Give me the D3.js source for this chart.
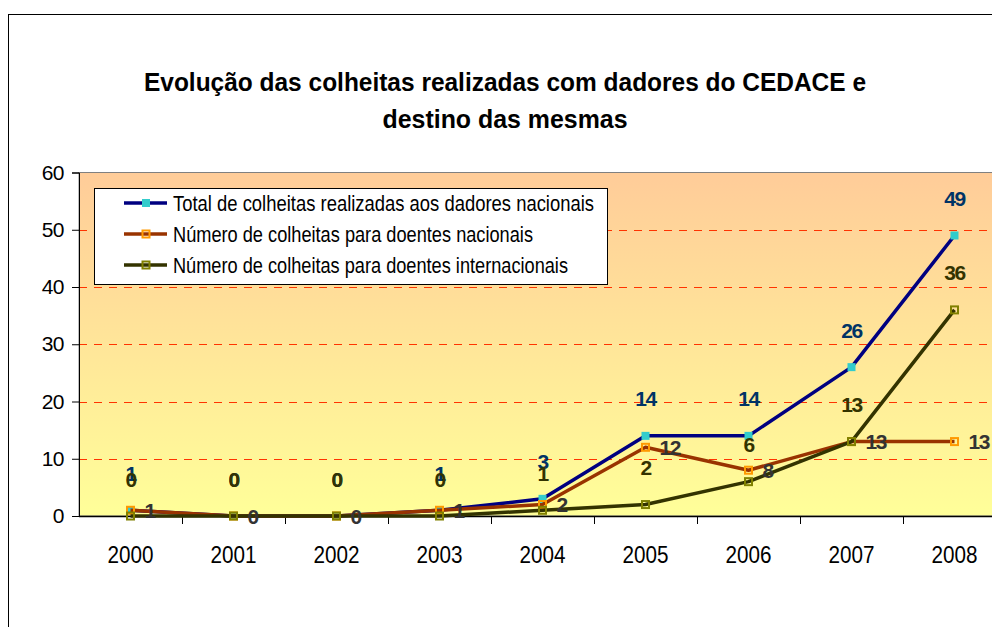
<!DOCTYPE html>
<html>
<head>
<meta charset="utf-8">
<script src="https://cdn.jsdelivr.net/npm/d3@7"></script>
<style>
  body { margin: 0; background: #fff; }
  svg { display: block; font-family: "Liberation Sans", Arial, sans-serif; }
</style>
</head>
<body>
<svg></svg>
<script>
let svgWidth = 992
let svgHeight = 627

// data
const years = ['2000', '2001', '2002', '2003', '2004', '2005', '2006', '2007', '2008']
const totalColheitas = [1, 0, 0, 1, 3, 14, 14, 26, 49]
const doentesNacionais = [1, 0, 0, 1, 2, 12, 8, 13, 13]
const doentesInternacionais = [0, 0, 0, 0, 1, 2, 6, 13, 36]
const seriesNames = [
    'Total de colheitas realizadas aos dadores nacionais',
    'Número de colheitas para doentes nacionais',
    'Número de colheitas para doentes internacionais'
]
const yTicks = [0, 10, 20, 30, 40, 50, 60]
const titleLines = ['Evolução das colheitas realizadas com dadores do CEDACE e', 'destino das mesmas']

let svg = d3.select('svg')
    .attr('width', svgWidth)
    .attr('height', svgHeight)

// outer chart frame
svg.append('rect')
    .attr('x', 8.5).attr('y', 14.5)
    .attr('width', 1100).attr('height', 800)
    .attr('fill', '#fff').attr('stroke', '#000')

let plot = {left: 79, right: 1006, top: 172.5, bottom: 516}

const x = d3.scaleBand().domain(years).range([plot.left, plot.right])
const y = d3.scaleLinear().domain([0, 60]).range([plot.bottom, plot.top])
const cx = d => x(d) + x.bandwidth() / 2

// plot background gradient
let grad = svg.append('defs').append('linearGradient')
    .attr('id', 'bg').attr('x1', 0).attr('y1', 0).attr('x2', 0).attr('y2', 1)
grad.append('stop').attr('offset', '0%').attr('stop-color', '#ffcc99')
grad.append('stop').attr('offset', '100%').attr('stop-color', '#ffff99')

svg.append('rect')
    .attr('x', plot.left).attr('y', plot.top)
    .attr('width', plot.right - plot.left).attr('height', plot.bottom - plot.top)
    .attr('fill', 'url(#bg)')
    .attr('stroke', '#808080')

// dashed gridlines
svg.selectAll('line.grid').data(yTicks.filter(t => t > 0 && t < 60))
    .enter().append('line')
    .attr('class', 'grid')
    .attr('x1', plot.left).attr('x2', plot.right)
    .attr('y1', d => Math.round(y(d)) + 0.5).attr('y2', d => Math.round(y(d)) + 0.5)
    .attr('stroke', '#ff3300')
    .attr('stroke-dasharray', '8,7')

// y axis
let yAxis = svg.append('g')
    .attr('transform', `translate(${plot.left},0)`)
    .call(d3.axisLeft(y).tickValues(yTicks).tickSize(7).tickPadding(8))
yAxis.select('.domain').attr('stroke', '#000')
yAxis.selectAll('.tick line').attr('stroke', '#000')
yAxis.selectAll('text')
    .attr('font-size', 21).attr('fill', '#000')
    .attr('font-family', '"Liberation Sans", Arial, sans-serif')
    .attr('letter-spacing', -0.5)

// x axis line + ticks between categories
svg.append('line')
    .attr('x1', plot.left).attr('x2', plot.right)
    .attr('y1', plot.bottom + 0.5).attr('y2', plot.bottom + 0.5)
    .attr('stroke', '#000').attr('stroke-width', 1.5)
svg.selectAll('line.xtick').data(years.slice(1).concat(['end']))
    .enter().append('line')
    .attr('class', 'xtick')
    .attr('x1', d => d == 'end' ? plot.right : Math.round(x(d)) + 0.5)
    .attr('x2', d => d == 'end' ? plot.right : Math.round(x(d)) + 0.5)
    .attr('y1', plot.bottom).attr('y2', plot.bottom + 8)
    .attr('stroke', '#000')
svg.selectAll('text.xlabel').data(years)
    .enter().append('text')
    .attr('class', 'xlabel')
    .attr('x', d => cx(d))
    .attr('y', 563)
    .attr('text-anchor', 'middle')
    .attr('font-size', 24)
    .attr('textLength', 46)
    .attr('lengthAdjust', 'spacingAndGlyphs')
    .text(d => d)

// series
const series = [
    {name: seriesNames[0], values: totalColheitas, line: '#000080', marker: '#33cccc', filled: true, label: '#003366', pos: 'above'},
    {name: seriesNames[1], values: doentesNacionais, line: '#993300', marker: '#ff9900', filled: false, label: '#333333', pos: 'right'},
    {name: seriesNames[2], values: doentesInternacionais, line: '#333300', marker: '#808000', filled: false, label: '#333300', pos: 'above'}
]

const lineGen = d3.line().x((d, i) => cx(years[i])).y(d => y(d))

function drawMarker(sel, s, px, py) {
    if (s.filled) {
        sel.append('rect')
            .attr('x', px - 4).attr('y', py - 4)
            .attr('width', 8).attr('height', 8)
            .attr('fill', s.marker)
    } else {
        sel.append('rect')
            .attr('x', px - 3.5).attr('y', py - 3.5)
            .attr('width', 7).attr('height', 7)
            .attr('fill', 'none')
            .attr('stroke', s.marker).attr('stroke-width', 2)
    }
}

series.forEach(function(s) {
    let g = svg.append('g')
    g.append('path')
        .datum(s.values)
        .attr('d', lineGen)
        .attr('fill', 'none')
        .attr('stroke', s.line)
        .attr('stroke-width', 3.5)
        .attr('stroke-linejoin', 'round')
    s.values.forEach(function(v, i) {
        drawMarker(g, s, cx(years[i]), y(v))
    })
})

// data labels on top
series.forEach(function(s) {
    svg.append('g').selectAll('text').data(s.values)
        .enter().append('text')
        .attr('x', (d, i) => s.pos == 'right' ? cx(years[i]) + 14 : cx(years[i]))
        .attr('y', d => s.pos == 'right' ? y(d) : y(d) - 37)
        .attr('dy', '0.36em')
        .attr('text-anchor', s.pos == 'right' ? 'start' : 'middle')
        .attr('font-size', 21)
        .attr('font-weight', 'bold')
        .attr('letter-spacing', -1.5)
        .attr('fill', s.label)
        .text(d => d)
})

// legend
let legend = svg.append('g')
legend.append('rect')
    .attr('x', 94.5).attr('y', 188.5)
    .attr('width', 513).attr('height', 96)
    .attr('fill', '#fff').attr('stroke', '#000')
const legendWidths = [421, 360, 395]
series.forEach(function(s, i) {
    let ly = 203 + i * 31
    legend.append('line')
        .attr('x1', 124).attr('x2', 167)
        .attr('y1', ly).attr('y2', ly)
        .attr('stroke', s.line).attr('stroke-width', 3.5)
    drawMarker(legend, s, 146, ly)
    legend.append('text')
        .attr('x', 173).attr('y', ly)
        .attr('dy', '0.36em')
        .attr('font-size', 22)
        .attr('textLength', legendWidths[i])
        .attr('lengthAdjust', 'spacingAndGlyphs')
        .text(s.name)
})

// title
const titleWidths = [722, 245]
svg.selectAll('text.title').data(titleLines)
    .enter().append('text')
    .attr('class', 'title')
    .attr('x', 505)
    .attr('y', (d, i) => 91 + i * 37)
    .attr('text-anchor', 'middle')
    .attr('font-size', 25)
    .attr('font-weight', 'bold')
    .attr('textLength', (d, i) => titleWidths[i])
    .attr('lengthAdjust', 'spacingAndGlyphs')
    .text(d => d)
</script>
</body>
</html>
